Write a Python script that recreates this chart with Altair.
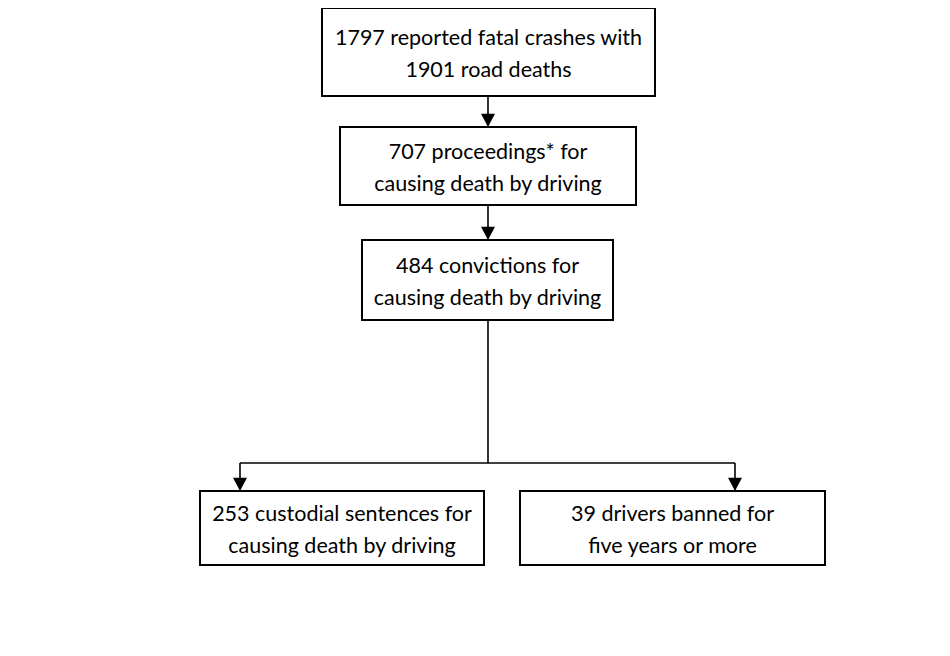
import altair as alt
import pandas as pd

# Flowchart nodes (layout coordinates in pixels of the 950x656 picture)
node_ids = ["crashes", "proceedings", "convictions", "custodial", "banned"]
node_text = [
    ["1797 reported fatal crashes with", "1901 road deaths"],
    ["707 proceedings* for", "causing death by driving"],
    ["484 convictions for", "causing death by driving"],
    ["253 custodial sentences for", "causing death by driving"],
    ["39 drivers banned for", "five years or more"],
]
node_left = [322, 340, 362, 200, 520]
node_right = [655, 636, 613, 484, 825]
node_top = [8, 127, 240, 491, 491]
node_bottom = [96, 205, 320, 565, 565]

# Connector segments (x1, y1, x2, y2)
seg_x1 = [488, 488, 488, 240, 240, 735]
seg_y1 = [96, 205, 320, 463, 463, 463]
seg_x2 = [488, 488, 488, 735, 240, 735]
seg_y2 = [127, 240, 463, 463, 491, 491]

# Arrow heads (tip positions)
arrow_x = [488, 488, 240, 735]
arrow_y = [127, 240, 491, 491]

LINE_H = 32
TEXT_SHIFT = 3

nodes = pd.DataFrame({
    "id": node_ids,
    "x1": node_left, "x2": node_right, "y1": node_top, "y2": node_bottom,
})
nodes["cx"] = (nodes["x1"] + nodes["x2"]) / 2
nodes["cy"] = (nodes["y1"] + nodes["y2"]) / 2

rows = []
for i, lines_ in enumerate(node_text):
    n = len(lines_)
    for j, t in enumerate(lines_):
        rows.append({
            "id": node_ids[i],
            "text": t,
            "tx": nodes.loc[i, "cx"],
            "ty": nodes.loc[i, "cy"] + (j - (n - 1) / 2) * LINE_H + TEXT_SHIFT,
        })
texts = pd.DataFrame(rows)

segs = pd.DataFrame({"x1": seg_x1, "y1": seg_y1, "x2": seg_x2, "y2": seg_y2})
arrows = pd.DataFrame({"x": arrow_x, "y": arrow_y})

xs = alt.Scale(domain=[8, 942])
ys = alt.Scale(domain=[8, 648], reverse=True)

lines = alt.Chart(segs).mark_rule(color="black", strokeWidth=1.6).encode(
    x=alt.X("x1:Q", scale=xs, axis=None),
    y=alt.Y("y1:Q", scale=ys, axis=None),
    x2="x2:Q",
    y2="y2:Q",
)

heads = alt.Chart(arrows).mark_point(
    shape="M-1,-1.9L1,-1.9L0,0Z", filled=True, color="black", opacity=1, size=196, strokeWidth=0
).encode(
    x=alt.X("x:Q", scale=xs, axis=None),
    y=alt.Y("y:Q", scale=ys, axis=None),
)

boxes = alt.Chart(nodes).mark_rect(fill="white", stroke="black", strokeWidth=2).encode(
    x=alt.X("x1:Q", scale=xs, axis=None),
    x2="x2:Q",
    y=alt.Y("y1:Q", scale=ys, axis=None),
    y2="y2:Q",
)

labels = alt.Chart(texts).mark_text(
    font="Lato", fontSize=21.5, color="black", align="center", baseline="middle",
).encode(
    x=alt.X("tx:Q", scale=xs, axis=None),
    y=alt.Y("ty:Q", scale=ys, axis=None),
    text="text:N",
)

chart = alt.layer(lines, boxes, heads, labels).properties(
    width=934, height=640, padding=0, autosize="none", background="white",
).configure_view(stroke=None, strokeWidth=0)

chart.save("out.html", embed_options={"renderer": "svg", "actions": False})
